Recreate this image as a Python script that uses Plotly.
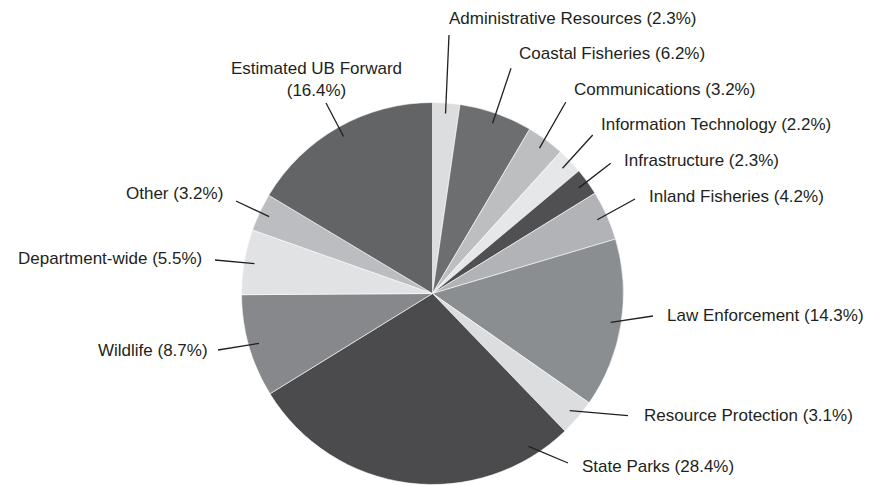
import math
import plotly.graph_objects as go

# ---- data ----
categories = [
    "Administrative Resources", "Coastal Fisheries", "Communications",
    "Information Technology", "Infrastructure", "Inland Fisheries",
    "Law Enforcement", "Resource Protection", "State Parks", "Wildlife",
    "Department-wide", "Other", "Estimated UB Forward",
]
shares = [2.3, 6.2, 3.2, 2.2, 2.3, 4.2, 14.3, 3.1, 28.4, 8.7, 5.5, 3.2, 16.4]

# ---- styles ----
colors = [
    "#dcdddf", "#6d6e70", "#bcbec0", "#e6e7e8", "#505052", "#b1b3b6",
    "#8b8e91", "#dcdddf", "#4b4b4d", "#87888b", "#e1e2e4", "#bcbdc0", "#636466",
]

OFF = 8                      # default page margin of the html body
W, H = 881 - OFF, 485 - OFF  # figure size so the page fits the window
CX, CY, R = 432.5, 293.5, 191.0  # pie geometry in page pixels
INNER = 0.945                      # leader line start, fraction of radius

# label layout in page pixels: (text_x, text_y, xanchor, line_end_x, line_end_y, pos_in_slice)
label_layout = [
    (446.7, 19, "left", 449, 35, 0.5),
    (516.7, 53.3, "left", 511, 68.3, 0.5),
    (571.7, 89.3, "left", 565.7, 102.3, 0.5),
    (599.3, 124, "left", 592.7, 135, 0.5),
    (621.7, 160, "left", 610.7, 163.3, 0.5),
    (646.7, 196.7, "left", 635, 199, 0.5),
    (665, 315.5, "left", 653, 316, 0.5),
    (641.7, 415.7, "left", 628, 415.7, 0.5),
    (580, 466.7, "left", 568, 463, 0.115),
    (210, 350, "right", 218, 350, 0.5),
    (204, 259, "right", 215, 260, 0.5),
    (225, 193, "right", 236, 201, 0.5),
    (316.7, 79.5, "center", 326, 103, 0.5),
]

def px(x):
    return (x - OFF) / W

def py(y):
    return 1 - (y - OFF) / H

fig = go.Figure(go.Pie(
    labels=categories,
    values=shares,
    sort=False,
    direction="clockwise",
    rotation=0,
    marker=dict(colors=colors, line=dict(color="#ffffff", width=0.6)),
    textinfo="none",
    hoverinfo="label+percent",
    domain=dict(x=[px(CX - R), px(CX + R)], y=[max(0, py(CY + R)), py(CY - R)]),
    showlegend=False,
))

shapes = []
annotations = []
total = sum(shares)
cum = 0.0
for name, v, (tx, ty, anc, ex, ey, f) in zip(categories, shares, label_layout):
    ang = (cum + v * f) / total * 2 * math.pi
    cum += v
    sx = CX + INNER * R * math.sin(ang)
    sy = CY - INNER * R * math.cos(ang)
    shapes.append(dict(type="line", xref="paper", yref="paper",
                       x0=px(sx), y0=py(sy), x1=px(ex), y1=py(ey),
                       line=dict(color="#231f20", width=1.3)))
    if name == "Estimated UB Forward":
        text = f"{name}<br>({v:.1f}%)"
    else:
        text = f"{name} ({v:.1f}%)"
    annotations.append(dict(xref="paper", yref="paper", x=px(tx), y=py(ty),
                            text=text, showarrow=False, xanchor=anc,
                            yanchor="middle", align="center",
                            font=dict(family="Liberation Sans, Arial, sans-serif",
                                      size=17, color="#231f20")))

fig.update_layout(
    width=W, height=H,
    margin=dict(l=0, r=0, t=0, b=0),
    paper_bgcolor="#ffffff",
    plot_bgcolor="#ffffff",
    shapes=shapes,
    annotations=annotations,
)

fig.write_html("out.html")
